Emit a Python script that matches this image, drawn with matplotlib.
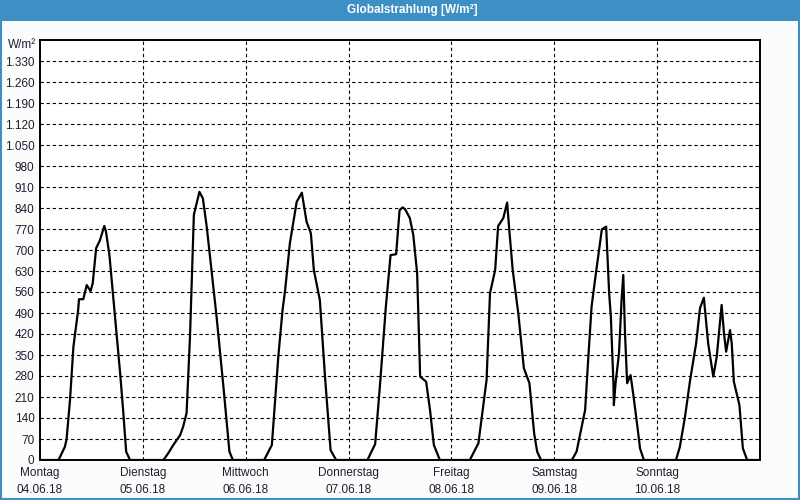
import matplotlib
matplotlib.use("Agg")
import matplotlib.pyplot as plt
from matplotlib.patches import Rectangle
from matplotlib.ticker import FuncFormatter

plt.rcParams["font.family"] = ["Liberation Sans", "DejaVu Sans"]

TITLE = "Globalstrahlung [W/m²]"
UNIT = "W/m²"
DAYS = ["Montag", "Dienstag", "Mittwoch", "Donnerstag", "Freitag", "Samstag", "Sonntag"]
DATES = ["04.06.18", "05.06.18", "06.06.18", "07.06.18", "08.06.18", "09.06.18", "10.06.18"]

hours = [
    0, 4.3, 4.7, 5.8, 6.2, 7.0, 7.8, 8.2, 8.9, 9.1, 10.1, 10.9, 11.8, 12.3, 13.1, 14.0, 15.0, 15.4,
    16.2, 17.5, 18.7, 19.45, 20.1, 21.0,
    28.8, 29.9, 31.1, 32.7, 33.4, 34.2, 35.0, 35.9, 37.2, 38.0, 38.9, 40.1, 41.2, 42.8, 44.2, 45.0,
    52.3, 54.1, 54.8, 55.6, 56.6, 57.2, 58.3, 59.9, 61.1, 62.2, 63.2, 63.9, 65.3, 66.5, 67.8, 69.1,
    76.4, 78.2, 79.3, 80.7, 81.8, 83.1, 83.9, 84.6, 85.2, 86.3, 87.1, 88.0, 88.7, 90.1, 91.0, 91.9, 93.3,
    100.3, 102.3, 103.1, 104.2, 105.0, 106.2, 106.9, 108.1, 109.0, 109.5, 110.3, 111.6, 112.9, 114.2,
    115.3, 116.0, 116.9,
    124.1, 125.2, 126.4, 127.2, 127.9, 128.7, 129.5, 131.1, 132.1, 132.8, 133.2, 133.8, 133.9, 134.3,
    135.1, 135.7, 136.1, 136.5, 137.0, 137.8, 138.4, 139.4, 140.0, 140.9,
    148.4, 149.3, 150.5, 151.7, 153.1, 154.0, 154.9, 155.9, 157.1, 157.9, 158.5, 159.05, 159.6, 160.1,
    161.0, 161.4, 161.9, 163.2, 164.0, 165.0, 167.8,
]
values = [
    0, 0, 11, 44, 69, 200, 378, 422, 500, 536, 536, 583, 563, 589, 706, 733, 780, 761,
    683, 478, 289, 156, 28, 0,
    0, 22, 50, 83, 111, 156, 411, 817, 894, 872, 778, 622, 478, 244, 28, 0,
    0, 50, 189, 344, 500, 567, 722, 861, 891, 794, 756, 633, 533, 278, 33, 0,
    0, 53, 244, 511, 683, 686, 833, 842, 836, 806, 750, 622, 278, 261, 167, 50, 0,
    0, 56, 144, 267, 556, 633, 780, 806, 858, 767, 633, 489, 306, 256,
    89, 28, 0,
    0, 28, 111, 167, 333, 511, 600, 769, 778, 556, 478, 256, 183, 256,
    356, 533, 617, 422, 256, 283, 222, 111, 39, 0,
    0, 44, 144, 267, 389, 506, 541, 389, 278, 344, 433, 517, 422, 361,
    433, 389, 261, 183, 39, 0, 0,
]

blue = "#3d8fc4"
text_col = "#1e1e30"

fig = plt.figure(figsize=(8, 5), dpi=100, facecolor="#fbfdfc")

# Titelleiste und Rahmen
fig.add_artist(Rectangle((0, 1 - 21 / 500), 1, 21 / 500, transform=fig.transFigure,
                         facecolor=blue, edgecolor="none", zorder=0))
fig.add_artist(Rectangle((0.001, 0.002), 0.998, 0.996, transform=fig.transFigure,
                         facecolor="none", edgecolor=blue, linewidth=1.5, zorder=5))
fig.text(412 / 800, 1 - 10.5 / 500, TITLE, ha="center", va="center", color="white",
         fontsize=8.5, fontweight="bold")

ax = fig.add_axes([40 / 800, 40 / 500, 720 / 800, 420 / 500])
ax.set_facecolor("white")
ax.plot(hours, values, color="black", linewidth=1.6, zorder=3)

ax.set_xlim(0, 168)
ax.set_ylim(0, 1400)

yticks = list(range(0, 1400, 70))
ax.set_yticks(yticks)
ax.yaxis.set_major_formatter(FuncFormatter(lambda v, p: f"{int(v):,}".replace(",", ".")))
ax.set_xticks([24 * i for i in range(7)])
ax.set_xticklabels([f"{d}\n{t}" for d, t in zip(DAYS, DATES)], linespacing=1.55)

ax.tick_params(length=0, labelsize=8.5, colors=text_col, pad=4)
ax.tick_params(axis="x", pad=5)

for y in yticks[1:]:
    ax.axhline(y, color="black", linewidth=0.8, linestyle=(0, (3, 2.5)), zorder=1)
for x in range(24, 168, 24):
    ax.axvline(x, color="black", linewidth=0.8, linestyle=(0, (3, 2.5)), zorder=1)

for s in ax.spines.values():
    s.set_linewidth(1.4)
    s.set_color("black")

ax.text(-0.005, 1 - 5 / 420, UNIT, transform=ax.transAxes, ha="right", va="center",
        fontsize=8.5, color=text_col)

fig.savefig("out.png", dpi=100, facecolor=fig.get_facecolor())
